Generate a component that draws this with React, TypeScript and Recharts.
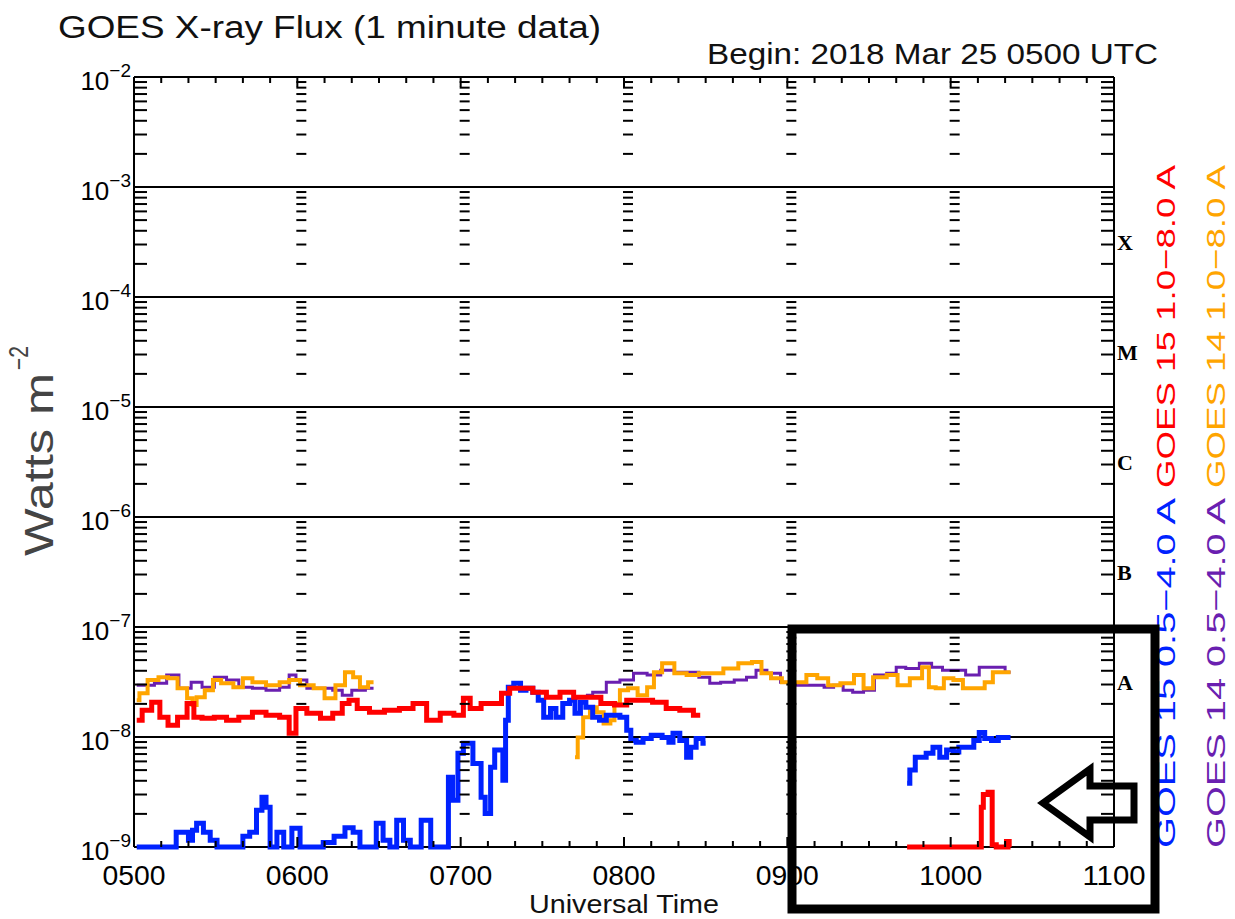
import React from 'react';
import { ComposedChart, Line, Scatter, XAxis, YAxis, ReferenceLine } from 'recharts';

// [minutes after 0500 UTC, flux in W m^-2]
type Pt = [number, number];

const hourTicks = [0, 60, 120, 180, 240, 300, 360];
const hourLabels = ['0500', '0600', '0700', '0800', '0900', '1000', '1100'];
const tenMinuteTicks = [0, 10, 20, 30, 40, 50, 60, 70, 80, 90, 100, 110, 120, 130, 140, 150, 160, 170, 180,
  190, 200, 210, 220, 230, 240, 250, 260, 270, 280, 290, 300, 310, 320, 330, 340, 350, 360];
const decadeTicks = [1e-9, 1e-8, 1e-7, 1e-6, 1e-5, 1e-4, 1e-3, 1e-2];
const decadeExps = ['−9', '−8', '−7', '−6', '−5', '−4', '−3', '−2'];
const classTicks = [3.16e-8, 3.16e-7, 3.16e-6, 3.16e-5, 3.16e-4];
const classLabels = ['A', 'B', 'C', 'M', 'X'];
const minorSteps = [2, 3, 4, 5, 6, 7, 8, 9];

// GOES 15 1.0-8.0 A (red)
const goes15LongEarly: Pt[] = [
  [1, 1.42e-8], [5, 1.75e-8], [8, 2.07e-8], [11, 1.51e-8], [14, 1.28e-8], [18, 1.51e-8], [21, 2.02e-8],
  [23, 1.51e-8], [27, 1.48e-8], [32, 1.51e-8], [36, 1.42e-8], [41, 1.51e-8], [46, 1.68e-8], [51, 1.58e-8],
  [56, 1.51e-8], [58, 1.08e-8], [61, 1.82e-8], [66, 1.64e-8], [71, 1.48e-8], [75, 1.64e-8], [78, 2.02e-8],
  [80, 2.16e-8], [84, 1.82e-8], [89, 1.68e-8], [95, 1.75e-8], [100, 1.82e-8], [105, 2.02e-8], [110, 1.42e-8],
  [115, 1.64e-8], [120, 1.58e-8], [122, 2.25e-8], [125, 1.82e-8], [130, 2.02e-8], [133, 2.02e-8], [137, 2.5e-8],
  [139, 2.77e-8], [144, 2.77e-8], [149, 2.55e-8], [154, 2.3e-8], [159, 2.55e-8], [164, 2.3e-8], [169, 2.3e-8],
  [174, 2.02e-8], [179, 1.95e-8], [183, 2.16e-8], [188, 2.16e-8], [193, 2.07e-8], [198, 1.82e-8], [203, 1.75e-8],
  [208, 1.58e-8],
];
const goes15LongLate: Pt[] = [
  [284, 1e-9], [300, 1e-9], [311, 1e-9], [311.5, 2.3e-9], [312.5, 3.0e-9], [315, 3.15e-9], [315.5, 1.05e-9],
  [318, 1e-9], [320, 1e-9], [321, 1.12e-9], [322, 1e-9],
];

// GOES 15 0.5-4.0 A (blue)
const goes15ShortEarly: Pt[] = [
  [1, 1e-9], [15, 1e-9], [16, 1.36e-9], [19, 1.36e-9], [21, 1.15e-9], [22, 1.42e-9], [24, 1.64e-9], [27, 1.36e-9],
  [29, 1.15e-9], [32, 1e-9], [39, 1e-9], [41, 1.25e-9], [44, 1.36e-9], [46, 2.16e-9], [48, 2.83e-9], [49, 2.3e-9],
  [51, 1e-9], [54, 1.36e-9], [56, 1e-9], [60, 1.48e-9], [62, 1e-9], [68, 1e-9], [71, 1.1e-9], [76, 1.25e-9],
  [79, 1.5e-9], [82, 1.36e-9], [84, 1e-9], [88, 1e-9], [90, 1.64e-9], [93, 1.15e-9], [95, 1e-9], [98, 1.75e-9],
  [100, 1.15e-9], [103, 1e-9], [108, 1.75e-9], [110, 1e-9], [115, 1e-9], [116, 4.3e-9], [118, 2.66e-9],
  [120, 7.1e-9], [122, 8.77e-9], [124, 8.77e-9], [125, 5.75e-9], [127, 5.75e-9], [128, 2.83e-9], [130, 2.02e-9],
  [132, 5.3e-9], [133, 7.6e-9], [135, 7.6e-9], [136, 4.05e-9], [137, 1.42e-8], [138, 2.83e-8], [141, 3.08e-8],
  [143, 2.66e-8], [145, 2.77e-8], [148, 2.55e-8], [149, 2.16e-8], [152, 1.51e-8], [154, 1.82e-8], [156, 1.51e-8],
  [159, 2.02e-8], [161, 2.16e-8], [163, 1.64e-8], [165, 2.07e-8], [167, 1.86e-8], [170, 1.51e-8], [172, 1.42e-8],
  [175, 1.58e-8], [177, 1.58e-8], [180, 1.51e-8], [182, 1.15e-8], [183, 9.3e-9], [186, 8.95e-9], [188, 9.7e-9],
  [192, 1.04e-8], [196, 9.9e-9], [197, 8.95e-9], [199, 1.08e-8], [202, 9.3e-9], [204, 6.53e-9], [205, 8.06e-9],
  [208, 9.7e-9], [210, 8.77e-9],
];
const goes15ShortLate: Pt[] = [
  [284, 3.8e-9], [286, 5.0e-9], [288, 6.53e-9], [290, 6.53e-9], [292, 7.1e-9], [295, 8.06e-9], [297, 6.53e-9],
  [300, 7.6e-9], [302, 7.3e-9], [304, 8.06e-9], [307, 8.06e-9], [310, 9.3e-9], [311, 1.1e-8], [314, 9.7e-9],
  [316, 9.3e-9], [319, 9.9e-9], [322, 9.9e-9],
];

// GOES 14 1.0-8.0 A (orange)
const goes14LongEarly: Pt[] = [
  [1, 2.16e-8], [3, 2.5e-8], [7, 3.3e-8], [11, 3.49e-8], [14, 3.42e-8], [18, 2.77e-8], [21, 2.25e-8], [22, 1.95e-8],
  [24, 2.3e-8], [28, 2.66e-8], [30, 3.3e-8], [34, 3.08e-8], [39, 2.83e-8], [41, 3.42e-8], [46, 3.14e-8],
  [51, 2.96e-8], [56, 3.14e-8], [58, 3.3e-8], [64, 2.96e-8], [68, 2.77e-8], [72, 2.25e-8], [76, 2.96e-8],
  [79, 3.88e-8], [82, 3.49e-8], [84, 2.83e-8], [88, 3.14e-8],
];
const goes14LongLate: Pt[] = [
  [162, 6.53e-9], [164, 9.9e-9], [166, 1.51e-8], [169, 1.86e-8], [171, 1.68e-8], [174, 1.33e-8], [176, 1.42e-8],
  [177, 2.02e-8], [180, 2.66e-8], [183, 2.77e-8], [187, 2.4e-8], [190, 2.83e-8], [192, 3.88e-8], [196, 4.68e-8],
  [201, 3.8e-8], [205, 3.66e-8], [210, 3.8e-8], [214, 3.8e-8], [219, 4.2e-8], [225, 4.68e-8], [229, 4.8e-8],
  [232, 3.8e-8], [236, 3.42e-8], [240, 3.14e-8], [245, 3.14e-8], [249, 3.66e-8], [253, 3.42e-8], [257, 2.96e-8],
  [262, 3.08e-8], [267, 3.66e-8], [269, 2.77e-8], [274, 3.49e-8], [279, 3.66e-8], [282, 2.96e-8], [288, 3.42e-8],
  [291, 4.3e-8], [293, 2.83e-8], [296, 2.77e-8], [299, 3.42e-8], [303, 3.3e-8], [306, 2.77e-8], [311, 2.77e-8],
  [314, 3.14e-8], [317, 3.88e-8], [322, 3.88e-8],
];

// GOES 14 0.5-4.0 A (purple)
const goes14ShortEarly: Pt[] = [
  [1, 2.96e-8], [5, 2.96e-8], [10, 3.08e-8], [14, 3.66e-8], [19, 2.77e-8], [23, 3.14e-8], [27, 2.83e-8],
  [32, 3.49e-8], [36, 3.3e-8], [41, 2.83e-8], [46, 2.77e-8], [51, 2.66e-8], [56, 2.83e-8], [58, 3.66e-8],
  [61, 3.3e-8], [66, 2.77e-8], [71, 2.77e-8], [75, 2.66e-8], [78, 2.4e-8], [82, 2.66e-8], [88, 2.77e-8],
];
const goes14ShortLate: Pt[] = [
  [166, 2.4e-8], [171, 2.55e-8], [176, 3.14e-8], [181, 3.3e-8], [186, 3.8e-8], [191, 3.66e-8], [196, 4.05e-8],
  [201, 3.88e-8], [205, 3.88e-8], [210, 3.49e-8], [213, 3.08e-8], [218, 3.14e-8], [223, 3.3e-8], [227, 3.49e-8],
  [230, 4.05e-8], [235, 3.8e-8], [240, 3.14e-8], [245, 2.96e-8], [249, 2.96e-8], [252, 2.96e-8], [255, 2.83e-8],
  [259, 2.96e-8], [262, 2.66e-8], [266, 2.55e-8], [270, 2.66e-8], [274, 3.66e-8], [279, 3.8e-8], [281, 4.3e-8],
  [286, 4.2e-8], [291, 4.68e-8], [295, 4.3e-8], [299, 4.05e-8], [303, 4.05e-8], [308, 3.66e-8], [313, 4.3e-8],
  [318, 4.3e-8], [322, 3.88e-8],
];

const RED = '#ff0000';
const BLUE = '#0022ff';
const ORANGE = '#ffa500';
const PURPLE = '#6a1fb0';
const FONT = '"Liberation Sans", Arial, sans-serif';

const CHART_W = 1235;
const CHART_H = 919;
const MARGIN_TOP = 77;
const XAXIS_H = 72;
const PLOT_H = CHART_H - MARGIN_TOP - XAXIS_H;

const toPts = (arr: Pt[]) => arr.map(([t, v]) => ({ t, v }));

// log minor-tick ladders at every hour line (incl. both side axes)
const ladderPts = hourTicks.flatMap((t) =>
  decadeTicks.slice(0, -1).flatMap((d) => minorSteps.map((m) => ({ t, v: m * d })))
);

const LadderDash = (p: any) => {
  const { cx, cy, payload } = p;
  let x1 = cx - 1;
  let x2 = cx + 9;
  if (payload.t === 0) { x1 = cx; x2 = cx + 13; }
  if (payload.t === 360) { x1 = cx - 13; x2 = cx; }
  return <line x1={x1} x2={x2} y1={cy} y2={cy} stroke="#000" strokeWidth={2} />;
};

const YTick = ({ y, payload }: any) => {
  const i = decadeTicks.indexOf(payload.value);
  return (
    <text x={131} y={y + 13} textAnchor="end" fontFamily={FONT} fontSize={26} fill="#000">
      10<tspan dy={-13} fontSize={19}>{decadeExps[i]}</tspan>
    </text>
  );
};

// x ticks: inward marks every 10 minutes on the bottom and top frame, labels on the hours
const XTick = ({ x, y, payload }: any) => {
  const v = payload.value;
  const i = hourTicks.indexOf(v);
  const edge = v === 0 || v === 360;
  const len = i >= 0 ? 10 : 6;
  return (
    <g>
      {!edge && (
        <rect x={x - 1} y={y - len} width={2} height={len} fill="#000" />
      )}
      {!edge && (
        <rect x={x - 1} y={y - PLOT_H} width={2} height={len} fill="#000" />
      )}
      {i >= 0 && (
        <text x={x} y={y + 38} textAnchor="middle" fontFamily={FONT} fontSize={27} fill="#000"
          textLength={63} lengthAdjust="spacingAndGlyphs">
          {hourLabels[i]}
        </text>
      )}
    </g>
  );
};
const ClassTick = ({ y, payload }: any) => {
  const i = classTicks.indexOf(payload.value);
  return (
    <text x={1117} y={y + 8} fontFamily='"Liberation Serif", "DejaVu Serif", serif' fontWeight="bold"
      fontSize={22} fill="#000">
      {classLabels[i]}
    </text>
  );
};

const sideText = (x: number, y: number, len: number, color: string, label: string) => (
  <text transform={`translate(${x},${y}) rotate(-90)`} fontFamily={FONT} fontSize={26} fill={color}
    textLength={len} lengthAdjust="spacingAndGlyphs">
    {label}
  </text>
);

const seriesLine = (arr: Pt[], color: string, width: number) => (
  <Line data={toPts(arr)} dataKey="v" type="step" stroke={color} strokeWidth={width} dot={false}
    isAnimationActive={false} />
);

export default function App() {
  return (
    <div style={{ position: 'absolute', left: 0, top: 0, width: CHART_W, height: CHART_H, background: '#fff' }}>
      <ComposedChart width={CHART_W} height={CHART_H} margin={{ top: MARGIN_TOP, right: 81, bottom: 0, left: 74 }}>
        <XAxis dataKey="t" type="number" domain={[0, 360]} ticks={tenMinuteTicks} interval={0}
          tickLine={false} axisLine={false} tickSize={0} tickMargin={0} height={XAXIS_H} tick={<XTick />} />
        <YAxis dataKey="v" type="number" scale="log" domain={[1e-9, 1e-2]} ticks={decadeTicks}
          tickLine={false} axisLine={false} width={60} tick={<YTick />} />
        <YAxis yAxisId="cls" orientation="right" type="number" scale="log" domain={[1e-9, 1e-2]} allowDataOverflow
          ticks={classTicks} tickLine={false} axisLine={false} width={40} tick={<ClassTick />} />

        {decadeTicks.map((d) => (
          <ReferenceLine key={d} y={d} stroke="#000" strokeWidth={2} />
        ))}
        <ReferenceLine x={0} stroke="#000" strokeWidth={2} />
        <ReferenceLine x={360} stroke="#000" strokeWidth={2} />

        <Scatter data={ladderPts} shape={<LadderDash />} isAnimationActive={false} />

        {seriesLine(goes14ShortEarly, PURPLE, 3)}
        {seriesLine(goes14ShortLate, PURPLE, 3)}
        {seriesLine(goes14LongEarly, ORANGE, 4)}
        {seriesLine(goes14LongLate, ORANGE, 4)}
        {seriesLine(goes15ShortEarly, BLUE, 5)}
        {seriesLine(goes15ShortLate, BLUE, 5)}
        {seriesLine(goes15LongEarly, RED, 5)}
        {seriesLine(goes15LongLate, RED, 5)}
      </ComposedChart>

      <svg width={CHART_W} height={CHART_H} style={{ position: 'absolute', left: 0, top: 0, pointerEvents: 'none' }}>
        <text x={58} y={38} fontFamily={FONT} fontSize={31} fill="#111" textLength={543} lengthAdjust="spacingAndGlyphs">
          GOES X-ray Flux (1 minute data)
        </text>
        <text x={707} y={64} fontFamily={FONT} fontSize={29} fill="#111" textLength={451} lengthAdjust="spacingAndGlyphs">
          Begin: 2018 Mar 25 0500 UTC
        </text>
        <text transform="translate(53,556) rotate(-90)" fontFamily={FONT} fontSize={41} fill="#444"
          textLength={183} lengthAdjust="spacingAndGlyphs">
          Watts m
        </text>
        <text transform="translate(28,370) rotate(-90)" fontFamily={FONT} fontSize={27} fill="#444"
          textLength={24} lengthAdjust="spacingAndGlyphs">
          −2
        </text>
        <text x={624} y={913} textAnchor="middle" fontFamily={FONT} fontSize={25} fill="#111"
          textLength={190} lengthAdjust="spacingAndGlyphs">
          Universal Time
        </text>

        {sideText(1175, 488, 323, RED, 'GOES 15 1.0−8.0 A')}
        {sideText(1225, 488, 323, ORANGE, 'GOES 14 1.0−8.0 A')}
        {sideText(1175, 848, 350, BLUE, 'GOES 15 0.5−4.0 A')}
        {sideText(1225, 848, 350, PURPLE, 'GOES 14 0.5−4.0 A')}

        <rect x={792} y={629} width={363} height={280} fill="none" stroke="#000" strokeWidth={9} />
        <polygon points="1043,803 1090,769 1090,786 1134,786 1134,820 1090,820 1090,837"
          fill="none" stroke="#000" strokeWidth={7} strokeLinejoin="miter" />
      </svg>
    </div>
  );
}
